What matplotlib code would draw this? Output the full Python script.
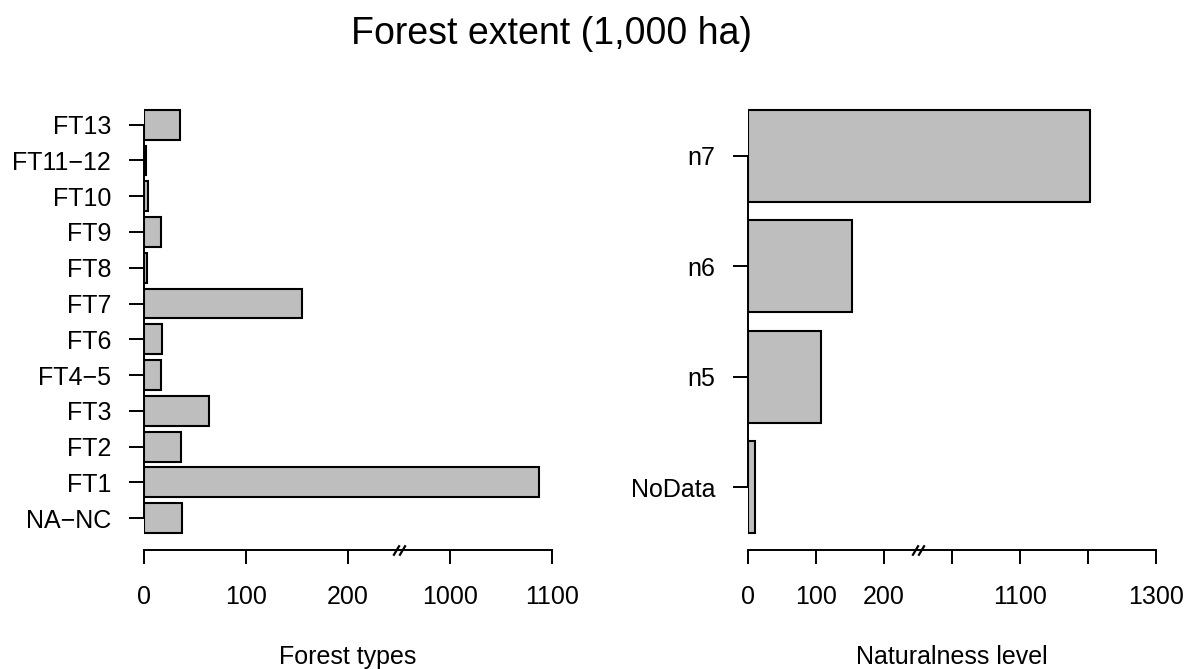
import matplotlib
matplotlib.use('Agg')
import matplotlib.pyplot as plt
import numpy as np
from matplotlib.path import Path
from matplotlib.transforms import ScaledTranslation

plt.rcParams['font.family'] = ['Liberation Sans', 'DejaVu Sans']

# forest types, bottom to top
type_labels = ['NA\u2212NC', 'FT1', 'FT2', 'FT3', 'FT4\u22125', 'FT6', 'FT7',
               'FT8', 'FT9', 'FT10', 'FT11\u221212', 'FT13']
type_values = [38, 1088, 37, 64, 17, 18, 155, 3, 17, 4, 2, 36]
type_ticks = [0, 100, 200, 1000, 1100]
type_ticklabels = ['0', '100', '200', '1000', '1100']

# naturalness levels, bottom to top
nat_labels = ['NoData', 'n5', 'n6', 'n7']
nat_values = [10, 108, 153, 1204]
nat_ticks = [0, 100, 200, 1000, 1100, 1200, 1300]
nat_ticklabels = ['0', '100', '200', '', '1100', '', '1300']

BREAK_LO, BREAK_HI = 250, 950


def fwd(v):
    v = np.asarray(v, dtype=float)
    return np.where(v <= BREAK_LO, v / 100,
                    np.where(v >= BREAK_HI, 3 + (v - 1000) / 100, 2.5))


def inv(u):
    u = np.asarray(u, dtype=float)
    return np.where(u <= 2.5, u * 100, 1000 + (u - 3) * 100)


def broken_barplot(fig, ax, labels, values, ticks, ticklabels, xlabel, xmax):
    n = len(values)
    # R barplot layout: width 1, space 0.2
    centers = 0.7 + 1.2 * np.arange(n)
    lo, hi = 0.2, 1.2 * n
    pad = 0.04 * (hi - lo)

    ax.set_xscale('function', functions=(fwd, inv))
    ax.barh(centers, values, height=1.0, color='#bebebe',
            edgecolor='black', linewidth=1.5)
    ax.set_xlim(0, xmax)
    ax.set_ylim(lo - pad, hi + pad)

    ax.set_yticks(centers)
    ax.set_yticklabels(labels)
    ax.set_xticks(ticks)
    ax.set_xticklabels(ticklabels)
    ax.xaxis.set_minor_locator(matplotlib.ticker.NullLocator())

    for s in ['top', 'right']:
        ax.spines[s].set_visible(False)
    ax.spines['left'].set_bounds(centers[0], centers[-1])
    ax.spines['bottom'].set_bounds(0, xmax)
    for s in ['left', 'bottom']:
        ax.spines[s].set_linewidth(1.4)

    ax.tick_params(axis='y', length=11, width=1.4, pad=12.5, labelsize=18)
    ax.tick_params(axis='x', length=10, width=1.4, pad=15.5, labelsize=18)

    # break marks //
    slash = Path([(-0.6, -1), (0.6, 1)], [Path.MOVETO, Path.LINETO])
    for dx in (-3, 3):
        tr = ax.get_xaxis_transform() + ScaledTranslation(dx / 100, 0, fig.dpi_scale_trans)
        ax.plot([BREAK_LO], [0], marker=slash, markersize=7.5, mew=1.6,
                color='black', transform=tr, clip_on=False)

    pos = ax.get_position()
    fig.text((pos.x0 + pos.x1) / 2, 1 - 664 / 669, xlabel,
             ha='center', va='baseline', fontsize=18)


def main():
    fig = plt.figure(figsize=(11.85, 6.69), dpi=100)
    ax1 = fig.add_axes([143.7 / 1185, 1 - 550 / 669, 408 / 1185, 457.2 / 669])
    ax2 = fig.add_axes([747.7 / 1185, 1 - 550 / 669, 408 / 1185, 457.2 / 669])

    broken_barplot(fig, ax1, type_labels, type_values, type_ticks,
                   type_ticklabels, 'Forest types', 1100)
    broken_barplot(fig, ax2, nat_labels, nat_values, nat_ticks,
                   nat_ticklabels, 'Naturalness level', 1300)

    fig.text(551.5 / 1185, 1 - 44.3 / 669, 'Forest extent (1,000 ha)',
             ha='center', va='baseline', fontsize=27)

    fig.savefig('out.png', dpi=100)


if __name__ == '__main__':
    main()
